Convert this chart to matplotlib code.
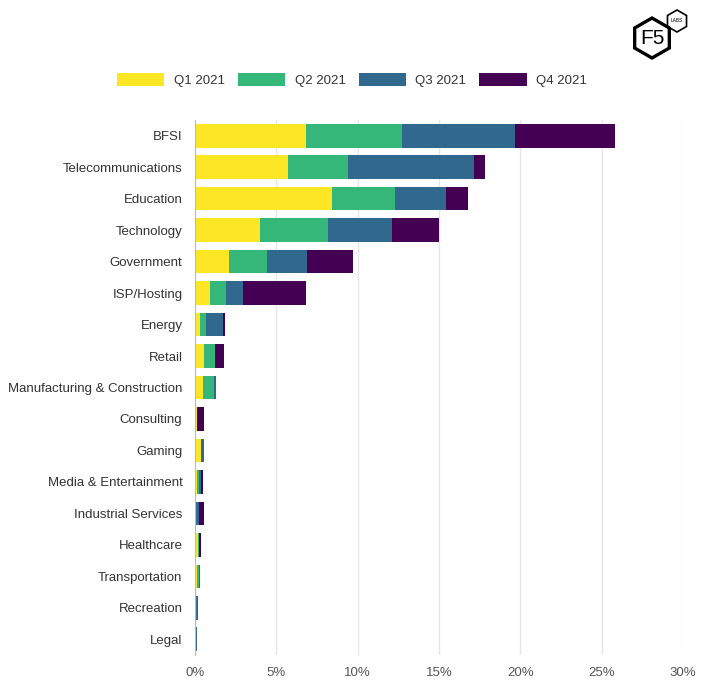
import numpy as np
import matplotlib.pyplot as plt
from matplotlib.patches import RegularPolygon

industries = ["BFSI", "Telecommunications", "Education", "Technology", "Government",
              "ISP/Hosting", "Energy", "Retail", "Manufacturing & Construction",
              "Consulting", "Gaming", "Media & Entertainment", "Industrial Services",
              "Healthcare", "Transportation", "Recreation", "Legal"]
q1 = [6.8, 5.7, 8.4, 4.0, 2.1, 0.9, 0.3, 0.55, 0.47, 0.1, 0.37, 0.1, 0.0, 0.18, 0.1, 0.0, 0.0]
q2 = [5.9, 3.7, 3.9, 4.2, 2.3, 1.0, 0.35, 0.65, 0.72, 0.05, 0.0, 0.14, 0.0, 0.04, 0.12, 0.0, 0.0]
q3 = [7.0, 7.75, 3.1, 3.9, 2.5, 1.05, 1.05, 0.06, 0.08, 0.0, 0.17, 0.1, 0.27, 0.0, 0.06, 0.18, 0.1]
q4 = [6.1, 0.65, 1.4, 2.9, 2.8, 3.85, 0.15, 0.53, 0.0, 0.4, 0.0, 0.17, 0.27, 0.14, 0.0, 0.0, 0.0]
series = {"Q1 2021": q1, "Q2 2021": q2, "Q3 2021": q3, "Q4 2021": q4}
colors = ["#fde725", "#35b779", "#31688e", "#440154"]

plt.rcParams['font.family'] = ['Liberation Sans', 'DejaVu Sans']
fig = plt.figure(figsize=(7.05, 6.94), dpi=100)
ax = fig.add_axes([195/705, 1-655/694, 488/705, 535/694])
y = np.arange(len(industries))
left = np.zeros(len(industries))
for (name, vals), c in zip(series.items(), colors):
    ax.barh(y, vals, left=left, color=c, height=0.75, label=name)
    left += np.array(vals)

ax.set_ylim(len(industries) - 0.5, -0.5)
ax.set_yticks(y)
ax.set_yticklabels(industries, fontsize=9.5, color="#333333")
ax.set_xlim(0, 30)
ax.set_xticks(range(0, 31, 5))
ax.set_xticklabels([f"{v}%" for v in range(0, 31, 5)], fontsize=9.5, color="#555555")
ax.grid(axis="x", color="#e6e6e6", lw=1)
ax.set_axisbelow(True)
for s in ["top", "right", "bottom"]:
    ax.spines[s].set_visible(False)
ax.spines["left"].set_color("#bbbbbb")
ax.tick_params(length=0, pad=9)

fig.legend(loc="center", bbox_to_anchor=(352/705, 1-80/694), ncol=4, frameon=False,
           fontsize=9.5, handlelength=3.6, handleheight=1.1, columnspacing=1.0,
           handletextpad=0.7, labelcolor="#333333")

# logo
lx = fig.add_axes([625/705, 1-60/694, 70/705, 55/694])
lx.set_xlim(0, 70); lx.set_ylim(0, 55); lx.axis("off")
lx.add_patch(RegularPolygon((27, 22), 6, radius=20, fill=False, lw=2.4, ec="black"))
lx.add_patch(RegularPolygon((52, 39), 6, radius=11, fill=False, lw=1.2, ec="black",
                            fc="white", zorder=3))
lx.text(27, 21, "F5", ha="center", va="center", fontsize=15)
lx.text(52, 39, "LABS", ha="center", va="center", fontsize=3.5, zorder=4)

fig.savefig("out.png")
